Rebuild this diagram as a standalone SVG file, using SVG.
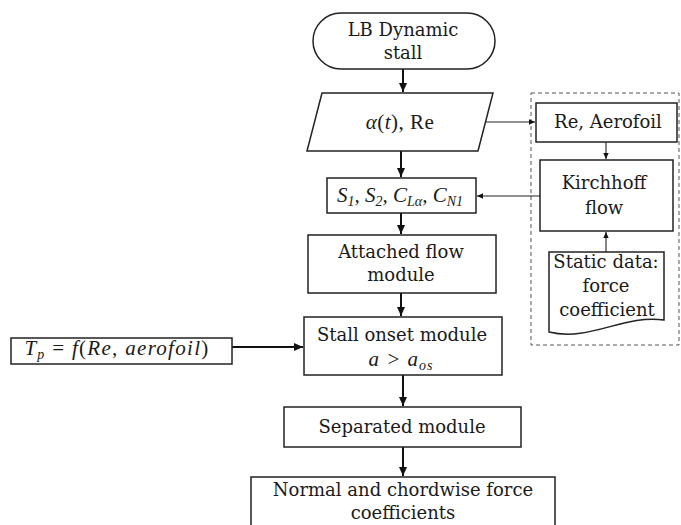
<svg xmlns="http://www.w3.org/2000/svg" width="681" height="525" viewBox="0 0 681 525">
<style>
.box{fill:#fff;stroke:#222;stroke-width:1.5}
.t{font-family:"DejaVu Serif","Liberation Serif",serif;font-size:18px;fill:#1a1a1a;text-anchor:middle}
.m{font-family:"Liberation Serif","DejaVu Serif",serif;font-size:21px;fill:#1a1a1a;text-anchor:middle;font-style:italic}
.sub{font-size:14px}
.c{stroke:#111;stroke-width:2;fill:none}
.c1{stroke:#222;stroke-width:1.1;fill:none}
</style>
<defs>
<marker id="ah" markerUnits="userSpaceOnUse" markerWidth="10" markerHeight="10" viewBox="0 0 10 10" refX="9" refY="5" orient="auto">
<path d="M0,1 L9,5 L0,9 Z" fill="#111"/>
</marker>
<marker id="ahs" markerUnits="userSpaceOnUse" markerWidth="7" markerHeight="7" viewBox="0 0 10 10" refX="9" refY="5" orient="auto">
<path d="M0,1 L9,5 L0,9 Z" fill="#111"/>
</marker>
</defs>

<rect x="531" y="93" width="148" height="252" fill="none" stroke="#555" stroke-width="1" stroke-dasharray="4,3"/>

<g id="connectors">
<line class="c" x1="403" y1="69" x2="403" y2="92" marker-end="url(#ah)"/>
<line class="c" x1="401" y1="151" x2="401" y2="177" marker-end="url(#ah)"/>
<line class="c" x1="401" y1="213" x2="401" y2="234" marker-end="url(#ah)"/>
<line class="c" x1="401" y1="293" x2="401" y2="316" marker-end="url(#ah)"/>
<line class="c" x1="232" y1="347" x2="303" y2="347" marker-end="url(#ah)"/>
<line class="c" x1="403" y1="375" x2="403" y2="406" marker-end="url(#ah)"/>
<line class="c" x1="403" y1="447" x2="403" y2="476" marker-end="url(#ah)"/>
<line class="c1" x1="486" y1="122" x2="535" y2="122" marker-end="url(#ahs)"/>
<line class="c1" x1="606" y1="142" x2="606" y2="159" marker-end="url(#ahs)"/>
<line class="c1" x1="540" y1="196" x2="477" y2="196" marker-end="url(#ahs)"/>
<line class="c1" x1="606" y1="252" x2="606" y2="232" marker-end="url(#ahs)"/>
</g>

<g id="start">
<rect class="box" x="313" y="13" width="182" height="56" rx="28" ry="28"/>
<text class="t" x="403" y="36">LB Dynamic</text>
<text class="t" x="403" y="59">stall</text>
</g>

<g id="input">
<polygon class="box" points="322,93 493,93 478,151 307,151"/>
<text class="m" x="400" y="129" letter-spacing="0.5"><tspan>α</tspan><tspan font-style="normal">(</tspan>t<tspan font-style="normal">), Re</tspan></text>
</g>

<g id="params">
<rect class="box" x="327" y="178" width="149" height="35"/>
<text class="m" x="400" y="202">S<tspan class="sub" dy="4">1</tspan><tspan dy="-4">, S</tspan><tspan class="sub" dy="4">2</tspan><tspan dy="-4">, C</tspan><tspan class="sub" dy="4">Lα</tspan><tspan dy="-4">, C</tspan><tspan class="sub" dy="4">N1</tspan></text>
</g>

<g id="attached">
<rect class="box" x="308" y="235" width="188" height="58"/>
<text class="t" x="401" y="258">Attached flow</text>
<text class="t" x="401" y="281">module</text>
</g>

<g id="stall-onset">
<rect class="box" x="304" y="317" width="198" height="58"/>
<text class="t" x="402" y="341">Stall onset module</text>
<text class="m" x="401" y="366" letter-spacing="1">a &gt; a<tspan class="sub" dy="4">os</tspan></text>
</g>

<g id="tp">
<rect class="box" x="11" y="338" width="221" height="26"/>
<text class="m" x="117" y="355" letter-spacing="1.3">T<tspan class="sub" dy="4">p</tspan><tspan dy="-4" font-style="normal"> = </tspan>f<tspan font-style="normal">(</tspan>Re, aerofoil<tspan font-style="normal">)</tspan></text>
</g>

<g id="separated">
<rect class="box" x="284" y="407" width="237" height="40"/>
<text class="t" x="402" y="433">Separated module</text>
</g>

<g id="output">
<rect class="box" x="251" y="477" width="304" height="60"/>
<text class="t" x="403" y="496">Normal and chordwise force</text>
<text class="t" x="403" y="519">coefficients</text>
</g>

<g id="re-aerofoil">
<rect class="box" x="536" y="103" width="141" height="39"/>
<text class="t" x="608" y="128">Re, Aerofoil</text>
</g>

<g id="kirchhoff">
<rect class="box" x="540" y="160" width="133" height="71"/>
<text class="t" x="604" y="189">Kirchhoff</text>
<text class="t" x="604" y="214">flow</text>
</g>

<g id="static-data">
<path class="box" d="M549,252 L664,252 L664,320 C624,314 590,342 549,332 Z"/>
<text class="t" x="606" y="268">Static data:</text>
<text class="t" x="606" y="292">force</text>
<text class="t" x="607" y="316">coefficient</text>
</g>
</svg>
